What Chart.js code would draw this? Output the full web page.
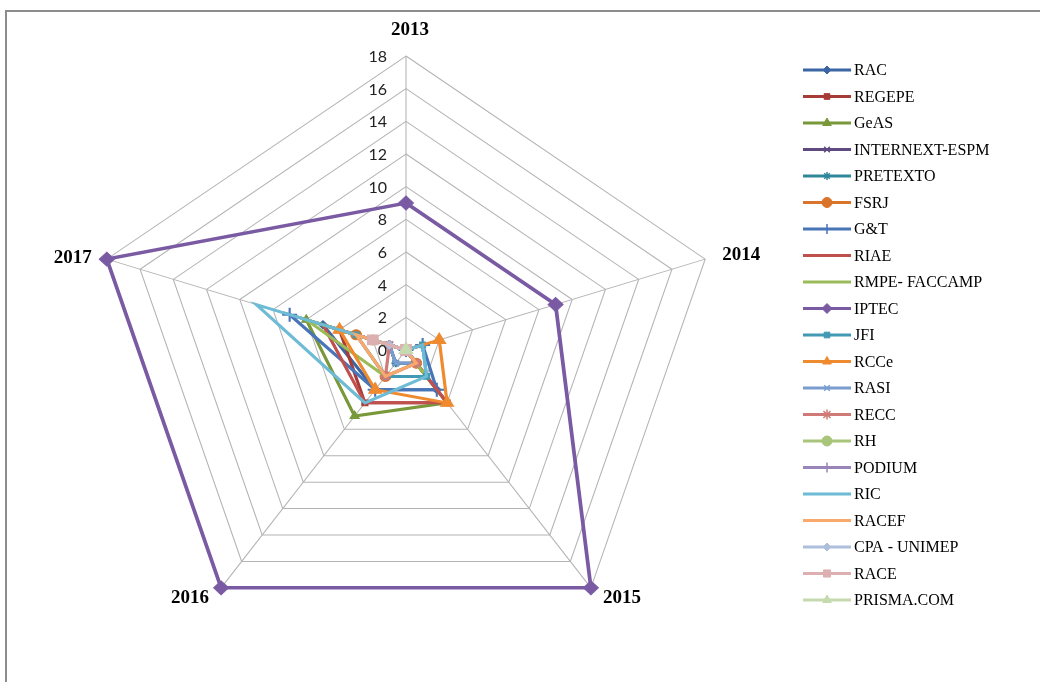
<!DOCTYPE html>
<html>
<head>
<meta charset="utf-8">
<script src="https://cdn.jsdelivr.net/npm/chart.js@4/dist/chart.umd.min.js"></script>
<style>
  body { margin: 0; background: #fff; }
  #wrap { position: relative; width: 1040px; height: 682px; overflow: hidden; }
  #frame { position: absolute; left: 5px; top: 10px; width: 1100px; height: 700px;
           border-left: 2px solid #8c8c8c; border-top: 2px solid #8c8c8c; }
  canvas { position: absolute; left: 0; top: 0; }
</style>
</head>
<body>
<div id="wrap">
  <div id="frame"></div>
  <canvas id="myChart" width="1040" height="682"></canvas>
</div>
<script>
const years = ["2013", "2014", "2015", "2016", "2017"];
const tickValues = [0, 2, 4, 6, 8, 10, 12, 14, 16, 18];

// values per journal, in year order 2013..2017
const RAC       = [0, 0, 3, 3, 5];
const REGEPE    = [0, 0, 4, 4, 4];
const GeAS      = [0, 0, 4, 5, 6];
const INTERNEXT = [0, 0, 1, 1, 1];
const PRETEXTO  = [0, 0, 1, 1, 1];
const FSRJ      = [0, 0, 1, 2, 3];
const GT        = [0, 1, 3, 3, 7];
const RIAE      = [0, 0, 4, 4, 5];
const RMPE      = [0, 0, 2, 2, 6];
const IPTEC     = [9, 9, 18, 18, 18];
const JFI       = [0, 1, 2, 2, 3];
const RCCe      = [0, 2, 4, 3, 4];
const RASI      = [0, 0, 1, 1, 1];
const RECC      = [0, 0, 1, 2, 1];
const RH        = [0, 0, 0, 0, 2];
const PODIUM    = [0, 0, 0, 0, 1];
const RIC       = [0, 1, 2, 4, 9];
const RACEF     = [0, 0, 1, 2, 3];
const CPA       = [0, 0, 0, 0, 1];
const RACE      = [0, 0, 0, 0, 2];
const PRISMA    = [0, 0, 0, 0, 0];

const series = [
  ["RAC", RAC, "#3b66a3", "rectRot", 4],
  ["REGEPE", REGEPE, "#a63b37", "rect", 4],
  ["GeAS", GeAS, "#78983a", "triangle", 5],
  ["INTERNEXT-ESPM", INTERNEXT, "#5f4a80", "crossRot", 4],
  ["PRETEXTO", PRETEXTO, "#2f8799", "star", 4],
  ["FSRJ", FSRJ, "#d9742a", "circle", 5],
  ["G&T", GT, "#4874b8", "cross", 7],
  ["RIAE", RIAE, "#c0504d", "circle", 0],
  ["RMPE- FACCAMP", RMPE, "#9bbb59", "circle", 0],
  ["IPTEC", IPTEC, "#7a5ba3", "rectRot", 7],
  ["JFI", JFI, "#4299b3", "rect", 4],
  ["RCCe", RCCe, "#f08a2e", "triangle", 7],
  ["RASI", RASI, "#7a9ccf", "crossRot", 4],
  ["RECC", RECC, "#d07a78", "star", 5],
  ["RH", RH, "#a8c579", "circle", 5],
  ["PODIUM", PODIUM, "#9a85b8", "cross", 5],
  ["RIC", RIC, "#6dbbd4", "circle", 0],
  ["RACEF", RACEF, "#f9a96c", "circle", 0],
  ["CPA - UNIMEP", CPA, "#aebfdd", "rectRot", 4],
  ["RACE", RACE, "#dcb0b0", "rect", 7],
  ["PRISMA.COM", PRISMA, "#c5daae", "triangle", 7]
];

const datasets = series.map((s, i) => ({
  label: s[0],
  data: s[1],
  borderColor: s[2],
  backgroundColor: s[2],
  pointStyle: s[3],
  pointRadius: s[4],
  pointHoverRadius: s[4],
  pointBorderWidth: (s[3] === "cross" || s[3] === "crossRot" || s[3] === "star") ? 2 : 1,
  borderWidth: s[0] === "IPTEC" ? 3.5 : 3,
  fill: false,
  tension: 0,
  order: series.length - i
}));

// the original picture is a little wider than tall
const stretchX = 1.07;

const stretch = {
  id: "stretch",
  beforeDraw(chart) {
    const r = chart.scales.r;
    const ctx = chart.ctx;
    ctx.save();
    ctx.translate(r.xCenter, 0);
    ctx.scale(stretchX, 1);
    ctx.translate(-r.xCenter, 0);
  },
  afterDatasetsDraw(chart) {
    chart.ctx.restore();
  }
};

// year labels, tick labels and the legend drawn by hand
const labelOffsets = [[4, -26], [36, -4], [31, 10], [-31, 10], [-34, -1]];

const extras = {
  id: "extras",
  afterDraw(chart) {
    const ctx = chart.ctx;
    const r = chart.scales.r;
    ctx.save();

    ctx.fillStyle = "#000";
    ctx.font = "bold 19px 'Liberation Serif', 'Times New Roman', serif";
    ctx.textAlign = "center";
    ctx.textBaseline = "middle";
    years.forEach((y, i) => {
      const p = r.getPointPosition(i, r.drawingArea);
      const x = r.xCenter + (p.x - r.xCenter) * stretchX;
      ctx.fillText(y, x + labelOffsets[i][0], p.y + labelOffsets[i][1]);
    });

    ctx.font = "16px Lato, 'Open Sans', sans-serif";
    ctx.fillStyle = "#222";
    ctx.textAlign = "right";
    tickValues.forEach(v => {
      const d = r.getDistanceFromCenterForValue(v);
      ctx.fillText(String(v), r.xCenter - 19, r.yCenter - d + 1);
    });

    // legend
    const lx = 803, ly = 70, step = 26.5;
    ctx.font = "16px 'Liberation Serif', 'Times New Roman', serif";
    ctx.textAlign = "left";
    series.forEach((s, i) => {
      const y = ly + i * step;
      ctx.strokeStyle = s[2];
      ctx.lineWidth = 3;
      ctx.beginPath();
      ctx.moveTo(lx, y);
      ctx.lineTo(lx + 48, y);
      ctx.stroke();
      if (s[4] > 0 && Chart.helpers && Chart.helpers.drawPoint) {
        ctx.fillStyle = s[2];
        ctx.lineWidth = (s[3] === "cross" || s[3] === "crossRot" || s[3] === "star") ? 1.5 : 1;
        Chart.helpers.drawPoint(ctx, {
          pointStyle: s[3], rotation: 0, radius: Math.min(s[4], 5), borderWidth: 1
        }, lx + 24, y);
      }
      ctx.fillStyle = "#000";
      ctx.fillText(s[0], lx + 51, y + 1);
    });
    ctx.restore();
  }
};

new Chart(document.getElementById("myChart"), {
  type: "radar",
  data: { labels: years, datasets: datasets },
  options: {
    responsive: false,
    animation: false,
    layout: { padding: { left: 112, right: 340, top: 56, bottom: 38 } },
    plugins: { legend: { display: false }, tooltip: { enabled: false } },
    scales: {
      r: {
        min: 0,
        max: 18,
        ticks: { stepSize: 2, display: false },
        pointLabels: { display: false },
        grid: { color: "#b4b4b4", lineWidth: 1 },
        angleLines: { color: "#b4b4b4", lineWidth: 1 }
      }
    }
  },
  plugins: [stretch, extras]
});
</script>
</body>
</html>
